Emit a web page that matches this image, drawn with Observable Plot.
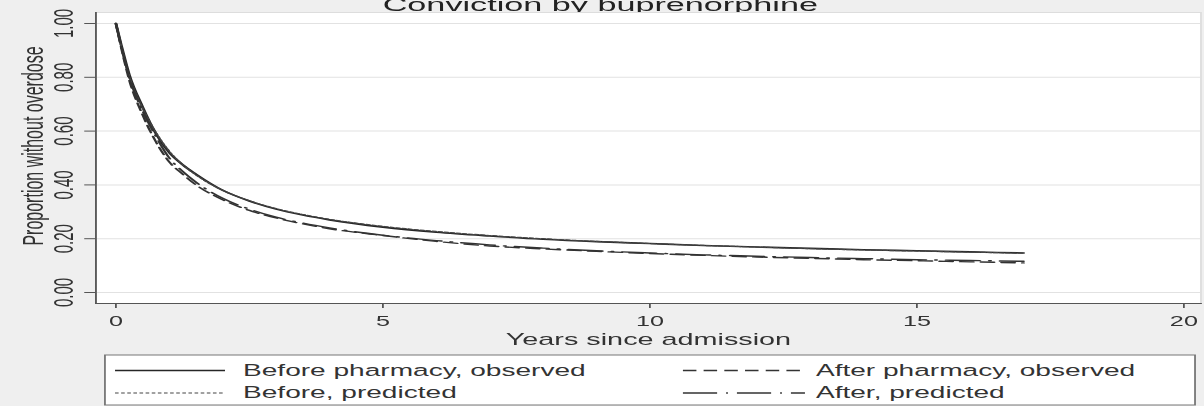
<!DOCTYPE html>
<html><head><meta charset="utf-8">
<script src="https://cdn.jsdelivr.net/npm/d3@7"></script>
<script src="https://cdn.jsdelivr.net/npm/@observablehq/plot@0.6"></script>
<style>
html,body{margin:0;padding:0;background:#efefef;overflow:hidden;width:1204px;height:406px}
#fig{position:absolute;left:0;top:0;width:669px;height:406px;transform:scaleX(1.8);transform-origin:0 0;font-family:"Liberation Sans",Arial,sans-serif;}
#fig > svg{position:absolute;left:0;overflow:visible}
</style></head><body><div id="fig"></div>
<script>
// ---- data ----
const years = [0,0.1,0.25,0.5,0.75,1,1.25,1.5,2,2.5,3,3.5,4,5,6,7,8,9,10,11,12,13,14,15,16,17];
const beforeObserved  = [1.00,0.92,0.81,0.69,0.59,0.52,0.475,0.44,0.38,0.34,0.31,0.288,0.27,0.243,0.224,0.21,0.198,0.189,0.182,0.175,0.169,0.164,0.159,0.155,0.151,0.147];
const beforePredicted = [1.00,0.915,0.805,0.685,0.595,0.525,0.475,0.437,0.38,0.341,0.312,0.29,0.272,0.246,0.227,0.212,0.20,0.19,0.182,0.175,0.169,0.163,0.158,0.154,0.15,0.146];
const afterObserved   = [1.00,0.91,0.79,0.66,0.56,0.485,0.44,0.40,0.345,0.305,0.277,0.255,0.237,0.212,0.19,0.173,0.162,0.153,0.145,0.138,0.132,0.127,0.122,0.118,0.114,0.11];
const afterPredicted  = [1.00,0.915,0.80,0.675,0.58,0.50,0.45,0.41,0.35,0.31,0.28,0.258,0.24,0.213,0.193,0.177,0.165,0.155,0.147,0.14,0.135,0.13,0.126,0.122,0.119,0.116];
const seriesNames = ["Before pharmacy, observed","Before, predicted","After pharmacy, observed","After, predicted"];
const seriesValues = [beforeObserved, beforePredicted, afterObserved, afterPredicted];
const xTicks = [0,5,10,15,20];
const yTicks = [0,0.2,0.4,0.6,0.8,1];
const yTickLabels = ["0.00","0.20","0.40","0.60","0.80","1.00"];
const titleText = "Conviction by buprenorphine";
const xLabel = "Years since admission";
const yLabel = "Proportion without overdose";

// ---- styles ----
const styles = [
  {stroke:"#262626", dash:null, width:1.6},
  {stroke:"#444444", dash:"2,1.4", width:1.2},
  {stroke:"#333333", dash:"7.5,4", width:1.4},
  {stroke:"#333333", dash:"19,5,1,5", width:1.4}
];
const W = 669;
const fig = document.getElementById("fig");
const font = '"Liberation Sans", Arial, sans-serif';

// title
const tsvg = d3.select(fig).append("svg").attr("width", W).attr("height", 12).style("top","0px");
tsvg.append("text").attr("x", 333.5).attr("y", 11).attr("text-anchor","middle")
  .attr("font-size", 19).attr("fill","#222").attr("font-family", font).text(titleText);

// data table
const rows = [];
seriesNames.forEach((s, i) => years.forEach((t, j) => rows.push({series: s, t, v: seriesValues[i][j]})));

const lineMarks = seriesNames.map((s, i) => Plot.line(rows.filter(d => d.series === s), {
  x: "t", y: "v", stroke: styles[i].stroke, strokeWidth: styles[i].width,
  strokeDasharray: styles[i].dash || undefined, curve: "monotone-x"
}));

const chart = Plot.plot({
  width: W, height: 338,
  marginTop: 0, marginBottom: 47, marginLeft: 52.8, marginRight: 2.3,
  style: {background: "transparent", fontFamily: font, color: "#333", overflow: "visible"},
  x: {domain: [-0.374, 20.32]},
  y: {domain: [-0.0409, 1.0409]},
  marks: [
    Plot.frame({fill: "white", stroke: "#dddddd"}),
    Plot.gridY(yTicks, {stroke: "#e2e2e2", strokeOpacity: 1, strokeWidth: 1}),
    ...lineMarks,
    Plot.frame({anchor: "left", stroke: "#555"}),
    Plot.frame({anchor: "bottom", stroke: "#555"}),
    Plot.axisY(yTicks, {tickSize: 6, tickRotate: -90, tickPadding: 6.5, fontSize: 15, label: null,
      tickFormat: d => yTickLabels[yTicks.indexOf(d)], stroke: "#555"}),
    Plot.axisX(xTicks, {tickSize: 5, tickPadding: 8, fontSize: 14, label: null, stroke: "#555"}),
    Plot.text([xLabel], {frameAnchor: "bottom", dy: 36.5, fontSize: 16, lineAnchor: "middle", text: d => d, fill: "#333"}),
    Plot.text([yLabel], {frameAnchor: "left", dx: -34.5, dy: -12, rotate: -90, fontSize: 16, lineAnchor: "middle", textAnchor: "middle", text: d => d, fill: "#333"})
  ]
});
chart.style.top = "12px";
fig.appendChild(chart);

// legend
const lsvg = d3.select(fig).append("svg").attr("width", W).attr("height", 56).style("top","350px");
lsvg.append("rect").attr("x", 58.3).attr("y", 5).attr("width", 605.6).attr("height", 50)
  .attr("fill", "white").attr("stroke", "#777").attr("stroke-width", 1);
const legendPos = [
  {x0: 63.9, x1: 125, tx: 135, y: 20.5},
  {x0: 63.9, x1: 125, tx: 135, y: 43},
  {x0: 379.4, x1: 447.2, tx: 453.3, y: 20.5},
  {x0: 379.4, x1: 447.2, tx: 453.3, y: 43}
];
seriesNames.forEach((s, i) => {
  const p = legendPos[i], st = styles[i];
  lsvg.append("line").attr("x1", p.x0).attr("x2", p.x1).attr("y1", p.y).attr("y2", p.y)
    .attr("stroke", st.stroke).attr("stroke-width", st.width).attr("stroke-dasharray", st.dash);
  lsvg.append("text").attr("x", p.tx).attr("y", p.y).attr("dominant-baseline","central")
    .attr("font-size", 15.6).attr("fill", "#333").attr("font-family", font).text(s);
});
</script>
</body></html>
